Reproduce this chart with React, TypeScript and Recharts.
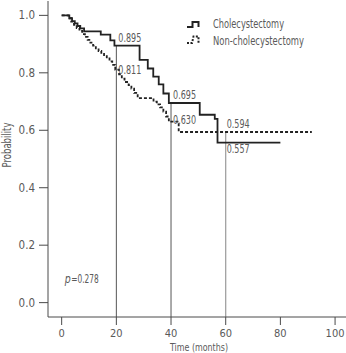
import React from "react";
import {
  LineChart,
  Line,
  XAxis,
  YAxis,
  ReferenceLine,
  ReferenceDot,
  Legend,
} from "recharts";

// Kaplan-Meier step values (time in months, survival probability)
const cholTime = [0, 2.8, 3.8, 4.8, 5.8, 6.8, 8.2, 14.3, 17.8, 19.3, 28.5, 31.5, 33.5, 35.5, 37.2, 39.2, 50.5, 56, 57, 80];
const cholSurv = [1.0, 0.99, 0.98, 0.972, 0.963, 0.955, 0.944, 0.933, 0.913, 0.895, 0.845, 0.815, 0.787, 0.76, 0.728, 0.695, 0.654, 0.64, 0.557, 0.557];

const nonTime = [0, 2.5, 3.5, 4.5, 5.5, 6.5, 7.5, 8.5, 9.5, 10.5, 11.5, 12.5, 13.5, 14.5, 15.5, 16.5, 17.5, 18.5, 19.6, 21, 22, 23, 24.5, 25.5, 26.5, 27.8, 33.6, 34.8, 36, 37.2, 38.2, 39.2, 42.8, 91.5];
const nonSurv = [1.0, 0.99, 0.978, 0.967, 0.956, 0.946, 0.935, 0.925, 0.915, 0.905, 0.895, 0.885, 0.876, 0.866, 0.858, 0.85, 0.84, 0.828, 0.811, 0.795, 0.78, 0.768, 0.757, 0.745, 0.73, 0.712, 0.7, 0.69, 0.68, 0.665, 0.648, 0.63, 0.594, 0.594];

const xTicks = [0, 20, 40, 60, 80, 100];
const yTicks = [0, 0.2, 0.4, 0.6, 0.8, 1.0];

// marked estimates: [time, probability, dx, dy]
const marks: [number, number, number, number][] = [
  [20, 0.895, 2, -7.5],
  [20, 0.811, 2, 0],
  [40, 0.695, 2, -7.5],
  [40, 0.63, 2, -2],
  [60, 0.594, 1, -7.5],
  [60, 0.557, 1, 6.5],
];

const pValue = "0.278";

const cholData = cholTime.map((t, i) => ({ t, p: cholSurv[i] }));
const nonData = nonTime.map((t, i) => ({ t, p: nonSurv[i] }));

const FONT = "'Liberation Sans Narrow', 'DejaVu Sans Condensed', Arial, sans-serif";
const TEXT = "#5a5a5a";
const AXIS = "#4a4a4a";

// squeezed text, the figure uses a condensed face
const Narrow = ({ w, children, ...rest }: any) => (
  <text
    fontFamily={FONT}
    fontSize={11.5}
    fill={TEXT}
    textLength={w}
    lengthAdjust="spacingAndGlyphs"
    {...rest}
  >
    {children}
  </text>
);

const ValueLabel = ({ viewBox, text, dx, dy }: any) => (
  <Narrow x={viewBox.x + dx} y={viewBox.y + dy} dominantBaseline="central" w={23}>
    {text}
  </Narrow>
);

const PLabel = ({ viewBox }: any) => (
  <g>
    <Narrow x={viewBox.x} y={viewBox.y} dominantBaseline="central" fontStyle="italic" w={6}>
      p
    </Narrow>
    <Narrow x={viewBox.x + 6.5} y={viewBox.y} dominantBaseline="central" w={27.5}>
      {`=${pValue}`}
    </Narrow>
  </g>
);

const YTitle = () => (
  <Narrow x={11} y={145} transform="rotate(-90 11 145)" textAnchor="middle" w={45}>
    Probability
  </Narrow>
);

const XTitle = () => (
  <Narrow x={199} y={350.8} textAnchor="middle" fontSize={10.5} w={58}>
    Time (months)
  </Narrow>
);

const LegendBox = () => (
  <svg width={140} height={36}>
    <path d="M3,13 H8.5 V8 H14.5 V13" fill="none" stroke="#222" strokeWidth={2} />
    <Narrow x={29} y={14} w={71}>
      Cholecystectomy
    </Narrow>
    <path
      d="M3,29 H8 L9.5,22.5 H14.5 V29"
      fill="none"
      stroke="#222"
      strokeWidth={2}
      strokeDasharray="2 1.5"
    />
    <Narrow x={29} y={30.5} w={91}>
      Non-cholecystectomy
    </Narrow>
  </svg>
);

export default function App() {
  return (
    <div style={{ position: "absolute", left: 0, top: 0 }}>
      <LineChart
        width={346}
        height={353}
        margin={{ top: 1, right: 0, bottom: 0, left: 0 }}
      >
        <XAxis
          dataKey="t"
          type="number"
          domain={[-5, 104]}
          ticks={xTicks}
          allowDataOverflow
          height={36}
          tickSize={8}
          tickMargin={4}
          stroke={AXIS}
          tick={{ fill: TEXT, fontSize: 11, fontFamily: FONT }}
          label={<XTitle />}
        />
        <YAxis
          type="number"
          domain={[-0.05, 1.05]}
          ticks={yTicks}
          allowDataOverflow
          width={48}
          tickSize={9}
          tickMargin={4}
          stroke={AXIS}
          tickFormatter={(v: number) => v.toFixed(1)}
          tick={{ fill: TEXT, fontSize: 11.5, fontFamily: FONT }}
          label={<YTitle />}
        />

        <ReferenceLine
          segment={[{ x: 20, y: -0.05 }, { x: 20, y: 0.895 }]}
          stroke="#555"
          strokeWidth={1}
        />
        <ReferenceLine
          segment={[{ x: 40, y: -0.05 }, { x: 40, y: 0.695 }]}
          stroke="#555"
          strokeWidth={1}
        />
        <ReferenceLine
          segment={[{ x: 60, y: -0.05 }, { x: 60, y: 0.594 }]}
          stroke="#9a9a9a"
          strokeWidth={1.2}
        />

        <Line
          data={nonData}
          dataKey="p"
          type="stepAfter"
          stroke="#222"
          strokeWidth={1.8}
          strokeDasharray="3 2"
          dot={false}
          isAnimationActive={false}
        />
        <Line
          data={cholData}
          dataKey="p"
          type="stepAfter"
          stroke="#222"
          strokeWidth={1.8}
          dot={false}
          isAnimationActive={false}
        />

        {marks.map(([t, p, dx, dy]) => (
          <ReferenceDot
            key={`${t}-${p}`}
            x={t}
            y={p}
            r={0}
            stroke="none"
            fill="none"
            label={<ValueLabel text={p.toFixed(3)} dx={dx} dy={dy} />}
          />
        ))}
        <ReferenceDot
          x={1.1}
          y={0.084}
          r={0}
          stroke="none"
          fill="none"
          label={<PLabel />}
        />

        <Legend
          layout="vertical"
          align="center"
          verticalAlign="middle"
          wrapperStyle={{ top: 14, left: 184, width: 140 }}
          content={() => <LegendBox />}
        />
      </LineChart>
    </div>
  );
}
